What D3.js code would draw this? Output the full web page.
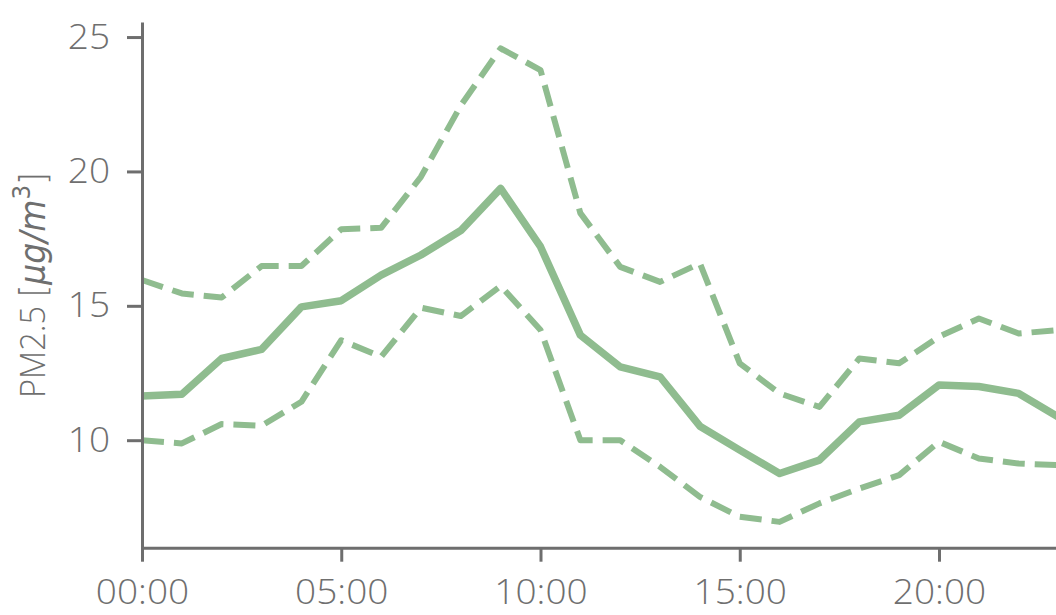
<!DOCTYPE html>
<html><head><meta charset="utf-8">
<script src="https://cdn.jsdelivr.net/npm/d3@7"></script>
<style>body{margin:0;background:#fff}svg{display:block}</style>
</head><body><svg id="c" width="1056" height="615"></svg>
<script>
const hours = [0,1,2,3,4,5,6,7,8,9,10,11,12,13,14,15,16,17,18,19,20,21,22,23];
const meanPM = [11.64,11.71,13.04,13.38,14.96,15.19,16.14,16.89,17.8,19.37,17.2,13.91,12.73,12.36,10.52,9.63,8.76,9.26,10.68,10.93,12.05,12.0,11.74,10.86];
const upperPM = [15.96,15.46,15.31,16.48,16.48,17.85,17.9,19.8,22.45,24.58,23.77,18.45,16.45,15.89,16.58,12.86,11.74,11.24,13.04,12.86,13.85,14.53,13.97,14.1];
const lowerPM = [10.0,9.88,10.6,10.54,11.43,13.72,13.1,14.93,14.62,15.74,14.1,10.0,10.0,9.01,7.89,7.15,6.96,7.65,8.2,8.7,9.94,9.32,9.13,9.07];
const xTickValues = [0,5,10,15,20];
const xTickLabels = ["00:00","05:00","10:00","15:00","20:00"];
const yTickValues = [10,15,20,25];

const svg = d3.select("#c");
const green = "#8fbc8f", gray = "#6e6e6e", textGray = "#6f6f6f";
const fontFam = "'Open Sans', 'Noto Sans', sans-serif";
const mathFam = "'DejaVu Sans', sans-serif";
const sx = 1.07;
const x = d3.scaleLinear().domain([0,23]).range([142, 142 + 23*39.85]);
const y = d3.scaleLinear().domain([6,25.56]).range([547.7,22]);

const line = d3.line().x((d,i)=>x(hours[i])).y(d=>y(d));

[upperPM, lowerPM].forEach(s=>{
  svg.append("path").datum(s).attr("d",line)
    .attr("fill","none").attr("stroke",green).attr("stroke-width",6)
    .attr("stroke-dasharray","22,10").attr("stroke-linejoin","round");
});
svg.append("path").datum(meanPM).attr("d",line)
  .attr("fill","none").attr("stroke",green).attr("stroke-width",7.5)
  .attr("stroke-linejoin","round");

const yAxis = svg.append("g").attr("transform","translate(142,0)")
  .call(d3.axisLeft(y).tickValues(yTickValues).tickSize(15).tickSizeOuter(0).tickPadding(14.9));
const xAxis = svg.append("g").attr("transform","translate(0,547.7)")
  .call(d3.axisBottom(x).tickValues(xTickValues).tickFormat((d,i)=>xTickLabels[i]).tickSize(14).tickSizeOuter(0).tickPadding(18));

[yAxis,xAxis].forEach(g=>{
  g.select(".domain").attr("stroke",gray).attr("stroke-width",3);
  g.selectAll(".tick line").attr("stroke",gray).attr("stroke-width",3);
  g.selectAll(".tick text").attr("fill",textGray)
    .attr("transform",`scale(${sx},1)`)
    .style("font-family",fontFam).style("font-weight","350").style("font-size","34.6px");
});

const yl = svg.append("text").attr("transform",`translate(45,285) scale(${sx},1) rotate(-90)`)
  .attr("text-anchor","middle").attr("fill",textGray)
  .style("font-family",fontFam).style("font-weight","350").style("font-size","32.5px");
yl.append("tspan").text("PM2.5 ");
yl.append("tspan").style("font-family",mathFam).style("font-weight","300").style("font-size","33px").text("[");
yl.append("tspan").style("font-style","italic").style("font-family",mathFam).style("font-weight","normal").style("font-size","33px").text("μg/m");
yl.append("tspan").attr("dy","-14").style("font-family",mathFam).style("font-weight","normal").style("font-size","23px").text("3");
yl.append("tspan").attr("dy","14").style("font-family",mathFam).style("font-weight","300").style("font-size","33px").text("]");
</script></body></html>
